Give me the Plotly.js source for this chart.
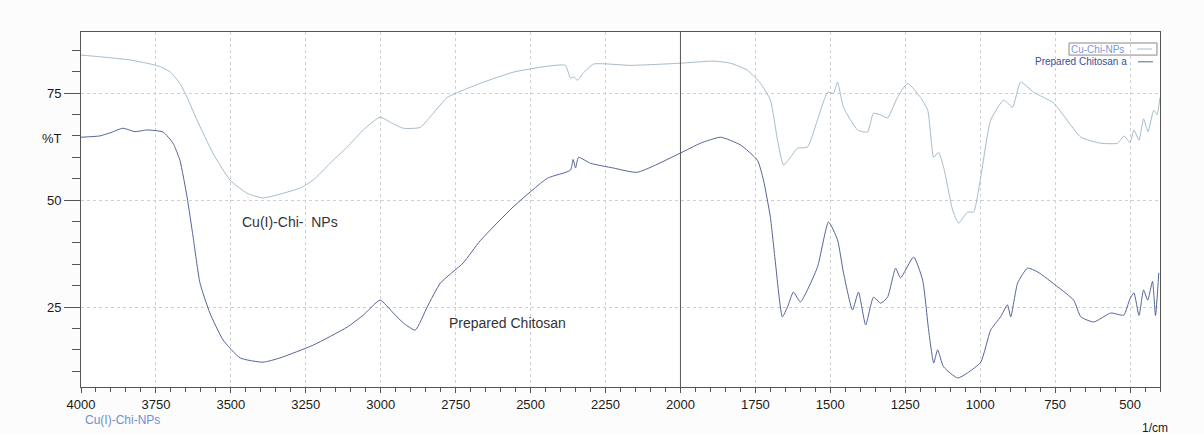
<!DOCTYPE html>
<html>
<head>
<meta charset="utf-8">
<script src="https://cdn.plot.ly/plotly-3.0.1.min.js"></script>
<style>
html,body{margin:0;padding:0;background:#fcfcfc;}
#chart{width:1204px;height:434px;}
</style>
</head>
<body>
<div id="chart"></div>
<script>
// Series names
const nameCu = "Cu-Chi-NPs";
const nameChi = "Prepared Chitosan a";

// Cu-Chi-NPs (upper trace): wavenumber (1/cm) and %T
const cuWavenumber = [4000,3950,3893,3840,3780,3740,3703,3670,3646,3613,3560,3503,3446,3393,3336,3269,3225,3169,3112,3058,3002,2968,2925,2868,2825,2778,2725,2668,2558,2444,2384,2367,2355,2344,2324,2290,2167,2000,1890,1833,1777,1733,1700,1676,1656,1633,1610,1576,1543,1509,1489,1476,1456,1409,1376,1356,1332,1309,1276,1242,1199,1175,1155,1139,1122,1092,1072,1042,1022,998,965,921,892,865,821,755,664,598,541,520,500,487,470,455,440,421,410,400];
const cuTransmittance = [83.9,83.6,83.2,82.8,82.0,81.3,80.0,77.3,74.0,68.7,61.0,54.7,51.6,50.5,51.4,52.8,54.7,58.6,62.4,66.4,69.4,68.2,66.8,67.0,70.3,74.0,75.7,77.3,79.9,81.3,81.5,78.5,78.8,78.0,79.7,81.8,81.5,82.0,82.5,82.0,80.4,77.3,73.4,64.0,58.2,60.0,62.1,62.4,68.7,75.2,75.0,77.6,71.7,66.4,65.9,70.3,69.9,69.2,74.0,77.3,74.0,71.0,60.0,61.2,57.7,47.7,44.6,47.2,47.2,55.4,68.7,73.4,71.7,77.6,75.2,72.7,64.7,63.3,63.3,65.0,63.5,66.4,64.0,69.0,66.0,71.0,70.0,74.0];

// Prepared Chitosan (lower trace): wavenumber (1/cm) and %T
const chiWavenumber = [4000,3937,3900,3860,3820,3780,3726,3693,3670,3646,3626,3603,3570,3526,3469,3393,3336,3225,3112,3058,3002,2958,2925,2885,2845,2801,2725,2668,2558,2444,2367,2358,2350,2340,2300,2224,2144,2000,1933,1866,1800,1743,1723,1700,1683,1660,1643,1623,1600,1543,1506,1476,1456,1426,1406,1382,1356,1332,1309,1282,1266,1222,1192,1172,1155,1142,1122,1075,1042,998,965,932,909,898,875,842,808,741,688,664,621,564,521,500,487,470,455,441,425,415,404];
const chiTransmittance = [64.7,65.0,65.8,66.8,66.0,66.4,65.9,63.3,59.3,50.7,41.4,30.6,23.6,17.3,13.1,12.1,13.1,16.1,20.3,23.1,26.6,23.6,21.3,19.6,25.0,30.6,35.3,40.5,48.4,55.1,57.0,59.5,57.5,60.0,58.6,57.5,56.5,61.0,63.3,64.7,62.9,59.3,54.7,46.0,35.3,22.7,25.0,28.5,26.2,34.3,44.9,40.7,33.0,24.3,28.5,20.8,27.3,25.9,27.3,34.1,31.8,36.7,31.3,19.6,11.9,15.0,11.0,8.4,9.6,12.1,19.6,22.7,25.5,22.7,30.6,34.1,33.2,29.7,26.6,22.7,21.5,23.6,23.1,27.0,28.3,23.0,29.0,26.6,31.0,23.0,33.0];

// Axis ticks
const xTickVals = [4000,3750,3500,3250,3000,2750,2500,2250,2000,1750,1500,1250,1000,750,500];
const yTickVals = [25,50,75];

const colCu = "#a3bccb";
const colChi = "#56649a";

const traces = [
  {x: cuWavenumber, y: cuTransmittance, type: "scatter", mode: "lines", name: nameCu,
   line: {color: colCu, width: 1, shape: "spline", smoothing: 0.5}, showlegend: false},
  {x: chiWavenumber, y: chiTransmittance, type: "scatter", mode: "lines", name: nameChi,
   line: {color: colChi, width: 1, shape: "spline", smoothing: 0.5}, showlegend: false}
];

const fam = "Liberation Sans, Arial, sans-serif";

const layout = {
  width: 1204, height: 434,
  margin: {l: 81, r: 44, t: 32, b: 47},
  paper_bgcolor: "#fcfcfc",
  plot_bgcolor: "#ffffff",
  font: {family: fam, size: 13, color: "#222"},
  showlegend: false,
  xaxis: {
    range: [4000, 400],
    tickvals: xTickVals,
    ticks: "outside", ticklen: 5, tickcolor: "#555",
    showline: true, linecolor: "#555", linewidth: 1, mirror: true,
    showgrid: true, gridcolor: "#cfcfcf", griddash: "3px,3px", gridwidth: 1,
    zeroline: false,
    tickfont: {family: fam, size: 13, color: "#1a1a1a"},
    minor: {dtick: 50, tick0: 0, ticks: "outside", ticklen: 4, tickcolor: "#555", showgrid: false}
  },
  yaxis: {
    range: [6.3, 89.3],
    tickvals: yTickVals,
    ticks: "outside", ticklen: 16, tickcolor: "#555",
    showline: true, linecolor: "#555", linewidth: 1, mirror: true,
    showgrid: true, gridcolor: "#cfcfcf", griddash: "3px,3px", gridwidth: 1,
    zeroline: false,
    tickfont: {family: fam, size: 13, color: "#1a1a1a"},
    minor: {dtick: 5, tick0: 0, ticks: "outside", ticklen: 8, tickcolor: "#555", showgrid: false}
  },
  shapes: [
    {type: "line", xref: "x", yref: "paper", x0: 2000, x1: 2000, y0: 0, y1: 1,
     line: {color: "#555", width: 1}},
    {type: "rect", xref: "paper", yref: "paper", x0: 0.9157, x1: 0.9972, y0: 0.935, y1: 0.969,
     line: {color: "#888", width: 1}, fillcolor: "rgba(0,0,0,0)"},
    {type: "line", xref: "paper", yref: "paper", x0: 0.9787, x1: 0.9926, y0: 0.952, y1: 0.952,
     line: {color: colCu, width: 1}},
    {type: "line", xref: "paper", yref: "paper", x0: 0.9796, x1: 0.9935, y0: 0.916, y1: 0.916,
     line: {color: colChi, width: 1}}
  ],
  annotations: [
    {text: "%T", xref: "paper", yref: "y", x: -0.0269, y: 64.5, xanchor: "center", showarrow: false,
     font: {family: fam, size: 13, color: "#1a1a1a"}},
    {text: "Cu(I)-Chi-  NPs", xref: "x", yref: "y", x: 3302, y: 44.9, xanchor: "center", showarrow: false,
     font: {family: fam, size: 14, color: "#333"}},
    {text: "Prepared Chitosan", xref: "x", yref: "y", x: 2578, y: 21.3, xanchor: "center", showarrow: false,
     font: {family: fam, size: 14, color: "#333"}},
    {text: "Cu(I)-Chi-NPs", xref: "paper", yref: "paper", x: 0.038, y: -0.093, xanchor: "center", yanchor: "middle", showarrow: false,
     font: {family: fam, size: 12, color: "#6f8fcf"}},
    {text: "1/cm", xref: "paper", yref: "paper", x: 0.9954, y: -0.116, xanchor: "center", yanchor: "middle", showarrow: false,
     font: {family: fam, size: 12, color: "#1a1a1a"}},
    {text: nameCu, xref: "paper", yref: "paper", x: 0.9685, y: 0.952,
     xanchor: "right", yanchor: "middle", showarrow: false,
     font: {family: fam, size: 10, color: "#7d98d4"}},
    {text: nameChi, xref: "paper", yref: "paper", x: 0.9713, y: 0.916,
     xanchor: "right", yanchor: "middle", showarrow: false,
     font: {family: fam, size: 10, color: "#3c4c9a"}}
  ]
};

Plotly.newPlot("chart", traces, layout, {displayModeBar: false, staticPlot: true});
</script>
</body>
</html>
